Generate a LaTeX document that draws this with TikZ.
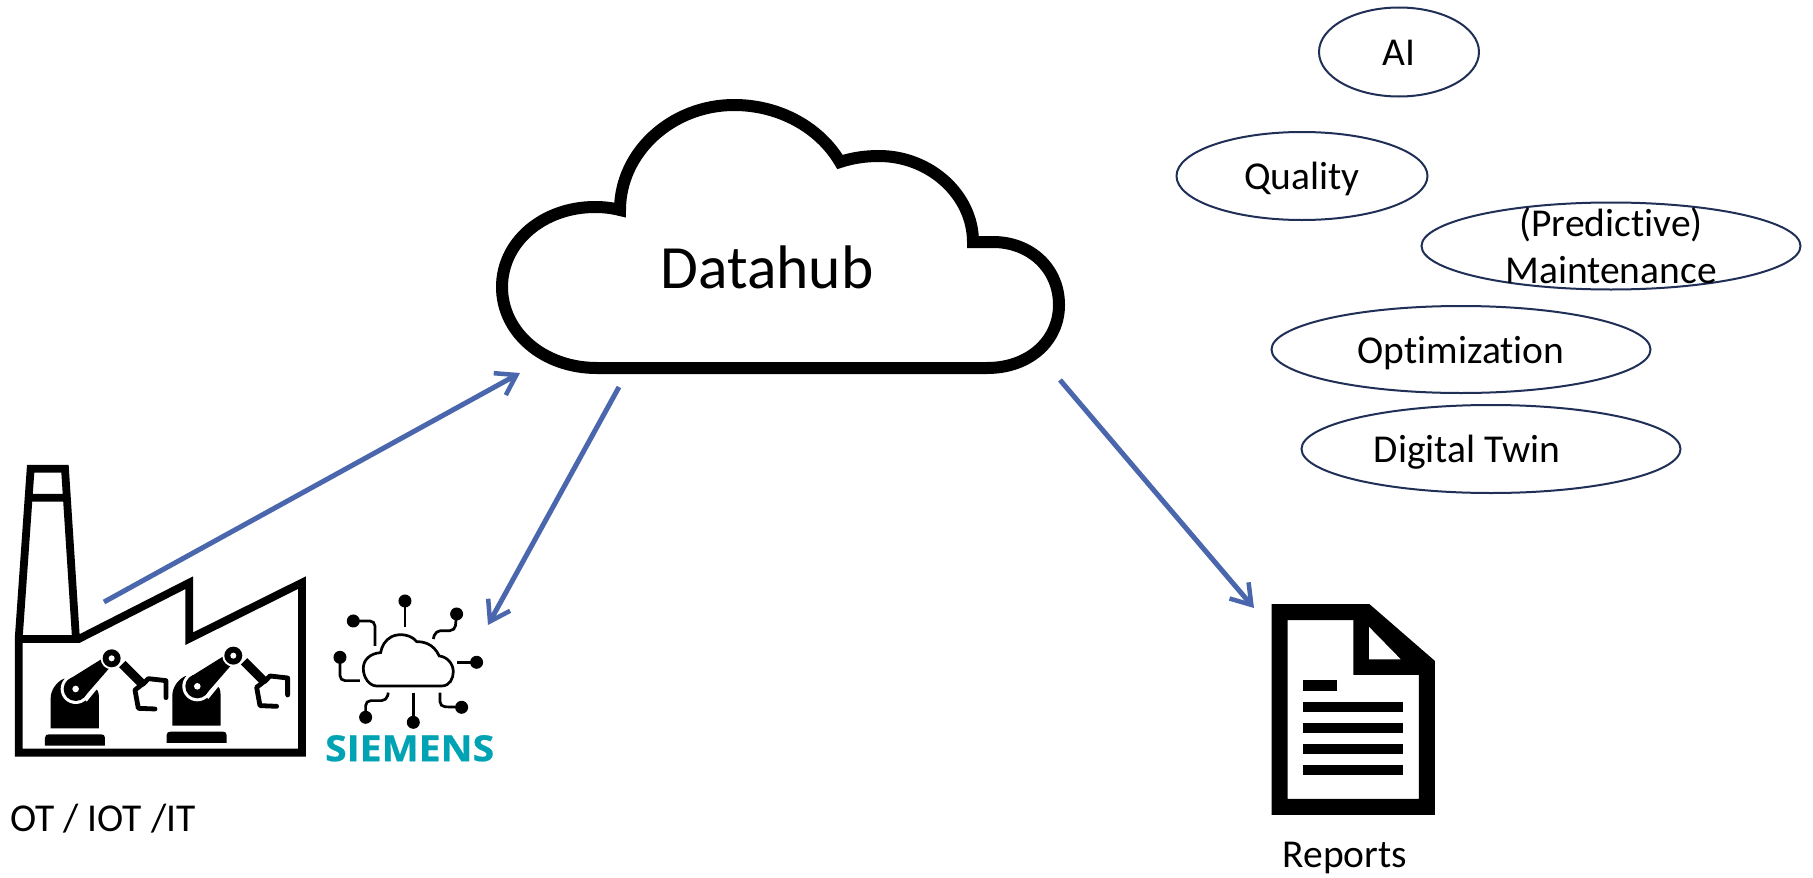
\documentclass[tikz,border=0pt]{standalone}
\usepackage{fontspec}
\usepackage{xcolor}
\usetikzlibrary{arrows.meta, shapes.geometric, positioning}
\setmainfont[Ligatures=CommonOff]{Carlito}
\newfontfamily\logofont[FakeStretch=1.09, FakeBold=0.6]{Open Sans}
\definecolor{arrowblue}{HTML}{4A66AC}
\definecolor{ringnavy}{HTML}{1F2F55}
\definecolor{logoteal}{HTML}{00A3B4}
\tikzset{
    usecase/.style={draw=ringnavy, line width=2pt, ellipse, inner sep=0pt, align=center, font=\fontsize{39.5}{46}\selectfont},
    oneline/.style={text height=27pt, text depth=0pt},
    caption/.style={anchor=base, inner sep=0pt, font=\fontsize{39.5}{46}\selectfont},
    flow/.style={draw=arrowblue, line width=5pt, -{Straight Barb[length=19pt, width=25pt, line width=4.5pt]}},
    iotlead/.style={line width=2.7pt, rounded corners=5pt},
    gripper/.style={line width=4.8pt, line join=round, line cap=round}
}

\begin{document}
\begin{tikzpicture}[x=1pt, y=-1pt]
    \useasboundingbox (0, 0) rectangle (1813, 878);
    \fill[white] (0, 0) rectangle (1813, 878);

    \draw[line width=12pt, fill=white]
    (597, 368) -- (987, 368)
    .. controls (1030, 368) and (1059, 340) .. (1059, 305)
    .. controls (1059, 268) and (1030, 242) .. (993, 242) -- (973, 242)
    .. controls (973, 195) and (930, 156) .. (879, 156)
    .. controls (865, 156) and (852, 158) .. (840, 162)
    .. controls (820, 128) and (780, 105) .. (734, 105)
    .. controls (672, 105) and (620, 152) .. (620, 210)
    .. controls (612, 208) and (604, 207) .. (595, 207)
    .. controls (543, 207) and (502, 242) .. (502, 287)
    .. controls (502, 332) and (543, 368) .. (597, 368) -- cycle;
    \node[inner sep=0pt, font=\fontsize{61.5}{72}\selectfont] (hub) at (767, 267) {Datahub};

    \node[usecase, oneline, minimum width=160pt, minimum height=89pt] (ai) at (1399, 52) {AI};
    \node[usecase, oneline, minimum width=251pt, minimum height=88pt] (quality) at (1302, 176) {Quality};
    \node[usecase, minimum width=379pt, minimum height=87pt] (maintenance) at (1611, 246) {};
    \node[inner sep=0pt, align=center, font=\fontsize{39.5}{46}\selectfont] (maintenancetext) at (maintenance) {(Predictive)\\[1pt]Maintenance};
    \node[usecase, oneline, minimum width=379pt, minimum height=87pt] (optimization) at (1461, 349.5) {Optimization};
    \node[usecase, oneline, minimum width=379pt, minimum height=88pt] (twin) at (1491, 449) {Digital Twin\hspace{48pt}};

    \node[caption] (plant) at (103, 831) {OT / IOT /IT};
    \node[caption] (reports) at (1345, 867) {Reports};

    \coordinate (plantout) at (104, 602);
    \coordinate (hubin) at (520, 373);
    \coordinate (hubdown) at (619, 387);
    \coordinate (iotin) at (488, 625);
    \coordinate (hubout) at (1060, 380);
    \coordinate (reportin) at (1254, 608);
    \draw[flow] (plantout) -- (hubin);
    \draw[flow] (hubdown) -- (iotin);
    \draw[flow] (hubout) -- (reportin);

    \begin{scope}[shift={(0, 440)}, x=0.3333pt, y=-0.3333pt]
        \draw[line width=7.8pt, miter limit=6]
        (56, 938) -- (56, 597) -- (236, 597) -- (568, 428) -- (568, 596) -- (906, 428) -- (906, 938) -- cycle
        (56, 597) -- (92, 86) -- (195, 86) -- (228, 597)
        (92, 173) -- (200, 173);
        \foreach \rx/\ry in {0/0, 365/-8} {
            \begin{scope}[shift={(\rx*0.3333pt, -\ry*0.3333pt)}]
                \fill (135, 917) -- (135, 893) .. controls (135, 886) and (140, 883) .. (147, 883) -- (303, 883)
                .. controls (310, 883) and (315, 886) .. (315, 893) -- (315, 917) -- cycle;
                \fill (152, 865) -- (152, 775) .. controls (152, 750) and (170, 725) .. (192, 716) -- (285, 743)
                .. controls (292, 748) and (297, 755) .. (297, 775) -- (297, 865) -- cycle;
                \fill[white] (227, 747) circle (15pt);
                \fill[white] (197, 712) -- (322, 634) -- (352, 672) -- (260, 785) -- cycle;
                \fill (204, 720) -- (326, 644) -- (344, 666) -- (250, 774) -- cycle;
                \fill (227, 747) circle (12pt);
                \fill[white] (227, 747) circle (3.3pt);
                \fill[white] (335, 655) circle (11pt);
                \fill (335, 655) circle (9pt);
                \fill[white] (335, 655) circle (3pt);
                \draw[line width=9pt] (367, 672) -- (430, 735);
                \draw[gripper] (430, 732) -- (445, 716) -- (498, 722) -- (498, 773);
                \draw[gripper] (428, 732) -- (405, 750) -- (415, 805) -- (465, 807);
            \end{scope}
        }

        \draw[line width=2.7pt]
        (1130, 738) -- (1325, 738)
        .. controls (1350, 738) and (1360, 715) .. (1360, 695)
        .. controls (1360, 670) and (1340, 650) .. (1318, 648)
        .. controls (1300, 610) and (1270, 605) .. (1250, 605)
        .. controls (1235, 585) and (1200, 578) .. (1175, 590)
        .. controls (1155, 600) and (1145, 620) .. (1142, 638)
        .. controls (1110, 640) and (1090, 660) .. (1090, 685)
        .. controls (1090, 715) and (1110, 738) .. (1130, 738) -- cycle;
        \draw[iotlead] (1215, 562) -- (1215, 483);
        \draw[iotlead] (1300, 597) -- (1307, 572) -- (1365, 572) -- (1370, 522);
        \draw[iotlead] (1372, 667) -- (1430, 667);
        \draw[iotlead] (1320, 758) -- (1320, 800) -- (1385, 802);
        \draw[iotlead] (1240, 758) -- (1240, 847);
        \draw[iotlead] (1165, 758) -- (1160, 782) -- (1097, 782) -- (1097, 832);
        \draw[iotlead] (1080, 722) -- (1020, 722) -- (1020, 652);
        \draw[iotlead] (1125, 618) -- (1125, 543) -- (1060, 543);
        \foreach \dx/\dy in {1215/483, 1370/522, 1430/667, 1385/802, 1240/847, 1097/832, 1020/652, 1060/543} {
            \fill (\dx, \dy) circle (6.5pt);
        }
        \node[inner sep=0pt, text=logoteal, font=\logofont\bfseries\fontsize{36}{40}\selectfont] (siemens) at (1229, 925) {SIEMENS};
    \end{scope}

    \begin{scope}[shift={(1220, 580)}, x=0.3333pt, y=-0.3333pt]
        \fill[even odd rule]
        (155, 72) -- (448, 72) -- (645, 243) -- (645, 705) -- (155, 705) -- cycle
        (203, 120) -- (400, 120) -- (400, 285) -- (597, 285) -- (597, 657) -- (203, 657) -- cycle
        (447, 140) -- (447, 238) -- (543, 238) -- cycle;
        \fill (250, 301) rectangle (352, 332);
        \foreach \ly in {365, 428, 491, 555} {
            \fill (250, \ly) rectangle (550, \ly + 31);
        }
    \end{scope}
\end{tikzpicture}
\end{document}
